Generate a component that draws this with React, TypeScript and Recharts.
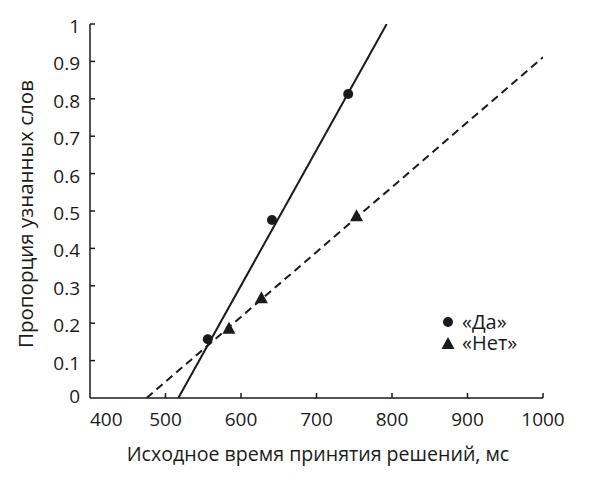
import React from "react";
import {
  ComposedChart,
  Line,
  Scatter,
  XAxis,
  YAxis,
  Label,
} from "recharts";

const xTicks = [400, 500, 600, 700, 800, 900, 1000];
const yTicks = [0, 0.1, 0.2, 0.3, 0.4, 0.5, 0.6, 0.7, 0.8, 0.9, 1];

// observed points
const yesPoints = [
  { x: 556, y: 0.157 },
  { x: 641, y: 0.476 },
  { x: 742, y: 0.813 },
];
const noPoints = [
  { x: 584, y: 0.185 },
  { x: 627, y: 0.267 },
  { x: 753, y: 0.486 },
];

// fitted lines (end points)
const yesFit = [
  { x: 517, y: 0 },
  { x: 793, y: 1 },
];
const noFit = [
  { x: 475, y: 0 },
  { x: 1000, y: 0.911 },
];

const legendItems = ["«Да»", "«Нет»"];

const FONT = "'Open Sans', sans-serif";
const INK = "#1a1a1a";

function XTick(props: any) {
  const { x, y, payload } = props;
  const first = payload.value === xTicks[0];
  return (
    <g>
      {!first && <line x1={x} y1={y} x2={x} y2={y - 5} stroke={INK} strokeWidth={1.5} />}
      <text
        x={x}
        y={y + 28}
        textAnchor={first ? "start" : "middle"}
        fontFamily={FONT}
        fontSize={19}
        fill={INK}
      >
        {payload.value}
      </text>
    </g>
  );
}

function YTick(props: any) {
  const { x, y, payload } = props;
  const zero = payload.value === 0;
  return (
    <g>
      {!zero && <line x1={x} y1={y} x2={x + 5} y2={y} stroke={INK} strokeWidth={1.5} />}
      <text
        x={x - 10}
        y={y + (zero ? 5 : 9)}
        textAnchor="end"
        fontFamily={FONT}
        fontSize={19}
        fill={INK}
      >
        {payload.value}
      </text>
    </g>
  );
}

const Dot = (props: any) => <circle cx={props.cx} cy={props.cy} r={5} fill={INK} />;
const Tri = (props: any) => {
  const { cx, cy } = props;
  return (
    <polygon
      points={`${cx},${cy - 7} ${cx - 6.5},${cy + 5} ${cx + 6.5},${cy + 5}`}
      fill={INK}
    />
  );
};

function LegendBox() {
  return (
    <div
      style={{
        position: "absolute",
        left: 441,
        top: 311,
        fontFamily: FONT,
        fontSize: 20,
        fontWeight: 500,
        color: INK,
        lineHeight: "21px",
      }}
    >
      {legendItems.map((name, i) => (
        <div key={name} style={{ display: "flex", alignItems: "center" }}>
          <svg width={14} height={14} style={{ marginRight: 7 }}>
            {i === 0 ? (
              <circle cx={7} cy={7} r={5} fill={INK} />
            ) : (
              <polygon points="7,1 0.5,13 13.5,13" fill={INK} />
            )}
          </svg>
          {name}
        </div>
      ))}
    </div>
  );
}

export default function App() {
  return (
    <div style={{ position: "absolute", left: 0, top: 0, width: 591, height: 480, background: "#fff" }}>
      <ComposedChart width={591} height={480} margin={{ top: 24, right: 48, bottom: 0, left: 0 }}>
        <XAxis
          type="number"
          dataKey="x"
          domain={[400, 1000]}
          ticks={xTicks}
          allowDataOverflow
          height={82}
          tickSize={0}
          tickMargin={0}
          tickLine={false}
          tick={<XTick />}
          axisLine={{ stroke: INK, strokeWidth: 1.5 }}
        >
          <Label
            content={() => (
              <text x={318} y={461} textAnchor="middle" fontFamily={FONT} fontSize={19.6} fill={INK}>
                Исходное время принятия решений, мс
              </text>
            )}
          />
        </XAxis>
        <YAxis
          type="number"
          dataKey="y"
          domain={[0, 1]}
          ticks={yTicks}
          allowDataOverflow
          width={90}
          tickSize={0}
          tickMargin={0}
          tickLine={false}
          tick={<YTick />}
          axisLine={{ stroke: INK, strokeWidth: 1.5 }}
        >
          <Label
            content={() => (
              <text
                x={33}
                y={214}
                transform="rotate(-90, 33, 214)"
                textAnchor="middle"
                fontFamily={FONT}
                fontSize={20.5}
                fill={INK}
              >
                Пропорция узнанных слов
              </text>
            )}
          />
        </YAxis>
        <Line
          data={yesFit}
          dataKey="y"
          stroke={INK}
          strokeWidth={2}
          dot={false}
          activeDot={false}
          isAnimationActive={false}
        />
        <Line
          data={noFit}
          dataKey="y"
          stroke={INK}
          strokeWidth={2}
          strokeDasharray="8 5"
          dot={false}
          activeDot={false}
          isAnimationActive={false}
        />
        <Scatter data={yesPoints} name={legendItems[0]} shape={<Dot />} isAnimationActive={false} />
        <Scatter data={noPoints} name={legendItems[1]} shape={<Tri />} isAnimationActive={false} />
      </ComposedChart>
      <LegendBox />
    </div>
  );
}
